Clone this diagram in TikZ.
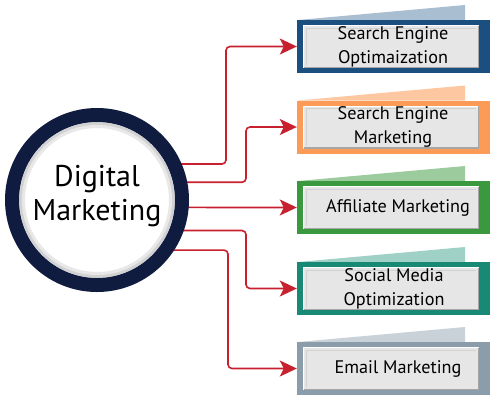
\documentclass[tikz,border=0pt]{standalone}
\usepackage{fontspec}
\setmainfont{PT Sans}
\usetikzlibrary{arrows.meta,positioning}

\definecolor{ringNavy}{HTML}{0F1C3F}
\definecolor{linkRed}{HTML}{C8202F}
\definecolor{seoBlue}{HTML}{1B4F80}
\definecolor{seoTab}{HTML}{A9BED0}
\definecolor{semOrange}{HTML}{FC9A57}
\definecolor{semTab}{HTML}{FDC7A2}
\definecolor{affGreen}{HTML}{3A993F}
\definecolor{affTab}{HTML}{9CCB9D}
\definecolor{smoTeal}{HTML}{178975}
\definecolor{smoTab}{HTML}{A0D1C7}
\definecolor{mailGray}{HTML}{8B9CAB}
\definecolor{mailTab}{HTML}{C9D1D9}
\definecolor{padGray}{HTML}{E6E6E6}

\tikzset{
	frame/.style={rectangle,inner sep=0pt,minimum width=193bp,minimum height=53bp},
	boxtext/.style={align=center,font=\fontsize{18.2bp}{24bp}\selectfont,text=black},
	link/.style={draw=linkRed,line width=1.6bp,rounded corners=4bp,
		-{Stealth[length=17bp,width=16bp,inset=4bp]}}
}

\begin{document}
\begin{tikzpicture}[x=1bp,y=-1bp]
	\useasboundingbox (0,0) rectangle (500,400);
	\fill[white] (0,0) rectangle (500,400);

	% boxes on the right
	\foreach \nm/\fr/\tb/\yy/\tx/\txt in {
		seo/seoBlue/seoTab/46.5/393/{Search Engine\\Optimaization},
		sem/semOrange/semTab/127/393/{Search Engine\\Marketing},
		aff/affGreen/affTab/207.5/398/{Affiliate Marketing},
		smo/smoTeal/smoTab/288.5/394/{Social Media\\Optimization},
		mail/mailGray/mailTab/368.5/398/{Email Marketing}}
	{
		\fill[\tb] (298,\yy-26.5) -- (465,\yy-41.5) -- (465,\yy-26.5) -- cycle;
		\node[frame,fill=\fr] (\nm) at (393.5,\yy) {};
		\fill[padGray] (303,\yy-21.5) rectangle (479,\yy+21.5);
		\draw[white,line width=1.2bp] (303.6,\yy+21) -- (303.6,\yy-20.9) -- (478.5,\yy-20.9);
		\draw[gray!70,line width=1.2bp] (303.6,\yy+20.9) -- (478.4,\yy+20.9) -- (478.4,\yy-20.9);
		\draw[gray!35,line width=0.8bp] (306,\yy+18.5) -- (306,\yy-18.5) -- (476,\yy-18.5);
		\node[boxtext] at (\tx,\yy) {\txt};
	}

	% connectors
	\coordinate (k1) at (226,0);
	\coordinate (k2) at (246,0);
	\coordinate (k5) at (228,0);
	\node[circle,minimum size=170bp,inner sep=0pt] (dm) at (97,200) {};
	\draw[link] (dm.25) -- (dm.25 -| k1) |- (seo.west);
	\draw[link] (dm.12) -- (dm.12 -| k2) |- (sem.west);
	\draw[link] (dm.-5) -- (aff.west);
	\draw[link] (dm.-21.5) -- (dm.-21.5 -| k2) |- (smo.west);
	\draw[link] (dm.-36) -- (dm.-36 -| k5) |- (mail.west);

	% hub
	\fill[white] (dm.center) circle (85);
	\draw[gray!35,line width=4bp] (dm.center) circle (76.5);
	\draw[gray!18,line width=3bp] (dm.center) circle (73.5);
	\draw[white,line width=1.5bp] (dm.center) circle (78.5);
	\draw[ringNavy,line width=14bp] (dm.center) circle (85);
	\node[align=center,font=\fontsize{30bp}{34bp}\selectfont] (dmt) at (97,196) {Digital\\Marketing};
\end{tikzpicture}
\end{document}
